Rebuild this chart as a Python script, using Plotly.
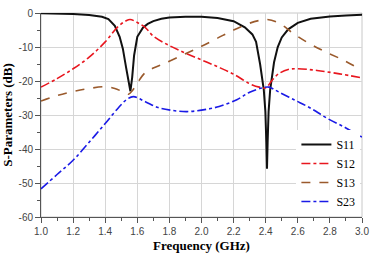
import plotly.graph_objects as go

# ---- data ----
s11_f = [1.0, 1.1, 1.2, 1.3, 1.38, 1.42, 1.46, 1.49, 1.51, 1.53, 1.545, 1.557, 1.568, 1.58, 1.6, 1.635, 1.665, 1.7, 1.75, 1.8, 1.9, 2.0, 2.1, 2.2, 2.27, 2.317, 2.34, 2.365, 2.388, 2.398, 2.404, 2.408, 2.412, 2.418, 2.428, 2.452, 2.475, 2.5, 2.54, 2.6, 2.68, 2.8, 2.9, 3.0]
s11_db = [-0.05, -0.15, -0.3, -0.6, -1.1, -1.8, -3.8, -7.0, -10.5, -16.0, -20.0, -23.0, -19.0, -12.5, -7.0, -4.3, -3.2, -2.4, -1.7, -1.3, -1.1, -1.1, -1.5, -2.4, -4.2, -6.3, -8.5, -15.0, -22.5, -29.0, -38.0, -45.8, -38.0, -29.0, -22.5, -14.5, -10.0, -7.2, -4.8, -2.9, -1.7, -1.0, -0.7, -0.5]

s12_f = [1.0, 1.1, 1.2, 1.3, 1.4, 1.48, 1.53, 1.555, 1.6, 1.65, 1.7, 1.8, 1.9, 2.0, 2.1, 2.2, 2.3, 2.36, 2.4, 2.44, 2.48, 2.54, 2.6, 2.72, 2.86, 3.0]
s12_db = [-21.8, -19.3, -16.4, -13.0, -8.5, -4.0, -2.3, -1.9, -2.8, -4.3, -6.8, -9.6, -11.8, -13.8, -15.8, -18.0, -20.8, -21.8, -22.0, -19.8, -17.9, -16.6, -16.4, -16.9, -17.9, -19.1]

s13_f = [1.0, 1.1, 1.2, 1.3, 1.4, 1.46, 1.52, 1.545, 1.57, 1.6, 1.65, 1.7, 1.77, 1.9, 2.0, 2.1, 2.2, 2.3, 2.36, 2.41, 2.48, 2.58, 2.68, 2.78, 2.89, 3.0]
s13_db = [-25.9, -24.3, -23.1, -22.2, -21.7, -22.2, -23.4, -23.9, -22.8, -20.6, -17.5, -16.2, -14.8, -12.0, -9.8, -7.4, -5.0, -3.0, -2.2, -1.9, -2.9, -6.3, -9.2, -11.6, -14.0, -16.9]

s23_f = [1.0, 1.1, 1.2, 1.3, 1.4, 1.48, 1.53, 1.575, 1.65, 1.73, 1.81, 1.91, 2.01, 2.11, 2.22, 2.3, 2.38, 2.42, 2.48, 2.58, 2.68, 2.78, 2.9, 3.0]
s23_db = [-51.7, -47.5, -43.3, -38.0, -32.5, -28.0, -25.6, -24.6, -26.1, -27.8, -28.6, -29.0, -28.5, -27.5, -25.5, -23.3, -22.0, -21.8, -23.2, -25.6, -28.0, -30.9, -33.8, -36.5]

names = ["S11", "S12", "S13", "S23"]
x_ticks = [1.0, 1.2, 1.4, 1.6, 1.8, 2.0, 2.2, 2.4, 2.6, 2.8, 3.0]
y_ticks = [0, -10, -20, -30, -40, -50, -60]

fig = go.Figure()
fig.add_trace(go.Scatter(x=s11_f, y=s11_db, name=names[0], mode="lines",
                         line=dict(color="#111111", width=2)))
fig.add_trace(go.Scatter(x=s12_f, y=s12_db, name=names[1], mode="lines", line_shape="spline",
                         line=dict(color="#e8161e", width=1.6, dash="dashdot")))
fig.add_trace(go.Scatter(x=s13_f, y=s13_db, name=names[2], mode="lines", line_shape="spline",
                         line=dict(color="#9a5a2c", width=1.6, dash="dash")))
fig.add_trace(go.Scatter(x=s23_f, y=s23_db, name=names[3], mode="lines", line_shape="spline",
                         line=dict(color="#1a1ae6", width=1.6, dash="dashdot")))

# light frame on top/right
fig.add_shape(type="rect", xref="paper", yref="paper", x0=0, y0=0, x1=1, y1=1,
              line=dict(color="#c8c8c8", width=1), layer="below")

tickfont = dict(family="Liberation Sans", size=10, color="#444444")
titlefont = dict(family="Liberation Serif", size=13, color="#000000", weight="bold")

fig.update_layout(
    width=376, height=271,
    margin=dict(l=41, r=7, t=10, b=54),
    paper_bgcolor="white", plot_bgcolor="white",
    showlegend=True,
    legend=dict(x=0.995, y=0.005, xanchor="right", yanchor="bottom",
                bgcolor="white", borderwidth=0,
                font=dict(family="Liberation Serif", size=12, color="#000000"),
                tracegroupgap=0),
    xaxis=dict(range=[1.0, 3.0], tickvals=x_ticks, ticktext=[f"{v:.1f}" for v in x_ticks],
               ticklabeloverflow="allow",
               showgrid=True, gridcolor="#d6d6d6", gridwidth=1,
               showline=True, linecolor="#555555", linewidth=1,
               ticks="outside", ticklen=5, tickcolor="#555555",
               minor=dict(dtick=0.1, ticks="outside", ticklen=3, tickcolor="#555555", showgrid=False),
               tickfont=tickfont, zeroline=False,
               title=dict(text="Frequency (GHz)", font=titlefont, standoff=4)),
    yaxis=dict(range=[-60, 0], tickvals=y_ticks, ticktext=[str(v) for v in y_ticks],
               ticklabeloverflow="allow",
               showgrid=True, gridcolor="#d6d6d6", gridwidth=1,
               showline=True, linecolor="#555555", linewidth=1,
               ticks="outside", ticklen=5, tickcolor="#555555",
               minor=dict(dtick=5, ticks="outside", ticklen=3, tickcolor="#555555", showgrid=False),
               tickfont=tickfont, zeroline=False,
               title=dict(text="S-Parameters (dB)", font=titlefont, standoff=2)),
)

fig.write_html("out.html")
